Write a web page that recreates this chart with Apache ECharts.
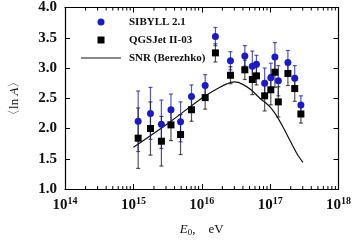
<!DOCTYPE html>
<html><head><meta charset="utf-8">
<script src="https://cdn.jsdelivr.net/npm/echarts@6/dist/echarts.min.js"></script>
<style>html,body{margin:0;padding:0;background:#fff}#c{width:354px;height:242px}</style>
</head><body><div id="c"></div>
<script>
// log10 of primary energy E0 (eV)
const lgE = [15.07,15.25,15.41,15.55,15.69,15.85,16.05,16.20,16.42,16.63,16.74,16.80,16.92,17.01,17.07,17.12,17.26,17.36,17.45];
const sibyll = [2.12,2.25,2.07,2.31,2.11,2.53,2.71,3.52,3.12,3.20,3.03,3.06,2.75,2.84,3.18,2.79,3.09,2.83,2.39];
const sibyllErr = [0.50,0.43,0.40,0.26,0.33,0.19,0.18,0.15,0.15,0.17,0.25,0.15,0.25,0.24,0.24,0.25,0.20,0.21,0.15];
const qgsjet = [1.84,2.00,1.79,2.06,1.90,2.31,2.51,3.25,2.88,2.97,2.81,2.87,2.54,2.64,2.93,2.44,2.91,2.66,2.24];
const qgsjetErr = [0.50,0.44,0.41,0.26,0.33,0.19,0.19,0.15,0.14,0.16,0.25,0.15,0.25,0.25,0.25,0.25,0.20,0.21,0.15];
const snrLgE = [15.0,15.5,16.0,16.2,16.35,16.48,16.6,16.72,16.85,16.95,17.02,17.1,17.2,17.3,17.4,17.48];
const snr = [1.69,2.08,2.5,2.64,2.73,2.77,2.73,2.64,2.5,2.41,2.33,2.2,2.0,1.78,1.57,1.44];
const xTicks = [14,15,16,17,18];
const yTicks = [1.0,1.5,2.0,2.5,3.0,3.5,4.0];

const E = v => Math.pow(10, v);
const serif = 'Liberation Serif';
const xMin = E(xTicks[0]), xMax = E(xTicks[xTicks.length-1]);
const yMin = yTicks[0], yMax = yTicks[yTicks.length-1];
// log-spaced minor tick positions (2..9 x 10^n)
const minorVals = [];
xTicks.slice(0,-1).forEach(n => { for (let k=2;k<=9;k++) minorVals.push([k*E(n), yMin, yMax]); });

function errData(vals, errs){ return lgE.map((x,i)=>[E(x), vals[i]-errs[i], vals[i]+errs[i]]); }
function errSeries(vals, errs, color, z){
  return {type:'custom', silent:true, z:z, data: errData(vals, errs), encode:{x:0,y:[1,2]},
    renderItem:(params, api)=>{
      const x = api.value(0);
      const lo = api.coord([x, api.value(1)]);
      const hi = api.coord([x, api.value(2)]);
      const w = 2;
      const st = {stroke: color, lineWidth: 1.2};
      return {type:'group', children:[
        {type:'line', shape:{x1:lo[0],y1:lo[1],x2:hi[0],y2:hi[1]}, style:st},
        {type:'line', shape:{x1:lo[0]-w,y1:lo[1],x2:lo[0]+w,y2:lo[1]}, style:st},
        {type:'line', shape:{x1:hi[0]-w,y1:hi[1],x2:hi[0]+w,y2:hi[1]}, style:st}
      ]};
    }};
}
const axisLine = {show:true, lineStyle:{color:'#000', width:1.2}};
const tick = {show:true, inside:true, length:5, lineStyle:{color:'#000', width:1}};
const labelFmt = v => '{b|10}{s|' + Math.round(Math.log10(v)) + '}';
const option = {
  animation:false,
  grid:{left:58, right:13, top:5, bottom:47},
  legend:{
    left:76, top:11, orient:'vertical', itemWidth:40, itemHeight:7, itemGap:6,
    data:[{name:'SIBYLL 2.1', icon:'circle'},{name:'QGSJet II-03', icon:'path://M0,0h1v1h-1z'},{name:'SNR (Berezhko)', icon:'path://M0,3h40v1.2h-40z'}],
    textStyle:{fontFamily:serif, fontWeight:'bold', fontSize:11, color:'#111', lineHeight:12, padding:[0,0,0,3]}
  },
  xAxis:[{
    type:'log', logBase:10, min:xMin, max:xMax,
    name:'{i|E}{sub|0}{n|,    eV}', nameLocation:'middle', nameGap:33,
    nameTextStyle:{rich:{i:{fontFamily:serif,fontStyle:'italic',fontSize:13,color:'#111'},sub:{fontFamily:serif,fontSize:9,verticalAlign:'bottom',padding:[6,0,0,0],color:'#111'},n:{fontFamily:serif,fontSize:13,color:'#111'}}},
    axisLine, splitLine:{show:false}, axisTick:tick,
    axisLabel:{margin:7, formatter:labelFmt, rich:{b:{fontFamily:serif,fontWeight:'bold',fontSize:15,color:'#111'},s:{fontFamily:serif,fontWeight:'bold',fontSize:10,color:'#111',verticalAlign:'top',padding:[0,0,8,0]}}}
  },{
    type:'log', logBase:10, position:'top', min:xMin, max:xMax,
    axisLine, splitLine:{show:false}, axisLabel:{show:false}, axisTick:tick
  }],
  yAxis:[{
    type:'value', min:yMin, max:yMax, interval:0.5,
    name:'{t|〈ln }{i|A}{t|〉}', nameLocation:'middle', nameGap:44, nameRotate:90,
    nameTextStyle:{rich:{t:{fontFamily:serif,fontSize:13,color:'#111'},i:{fontFamily:serif,fontStyle:'italic',fontSize:13,color:'#111'}}},
    axisLine, splitLine:{show:false}, axisTick:tick,
    axisLabel:{margin:8, fontFamily:serif, fontWeight:'bold', fontSize:15, color:'#111', formatter:v=>v.toFixed(1)}
  },{
    type:'value', position:'right', min:yMin, max:yMax, interval:0.5,
    axisLine, splitLine:{show:false}, axisLabel:{show:false}, axisTick:tick
  }],
  series:[
    {name:'minor', type:'custom', silent:true, clip:false, z:5, xAxisIndex:0, yAxisIndex:0,
      data:minorVals, encode:{x:0, y:[1,2]},
      renderItem:(params, api)=>{
        const b = api.coord([api.value(0), api.value(1)]);
        const t = api.coord([api.value(0), api.value(2)]);
        const st = {stroke:'#000', lineWidth:1};
        return {type:'group', children:[
          {type:'line', shape:{x1:b[0],y1:b[1],x2:b[0],y2:b[1]-3}, style:st},
          {type:'line', shape:{x1:t[0],y1:t[1],x2:t[0],y2:t[1]+3}, style:st}
        ]};
      }},
    {name:'SNR (Berezhko)', type:'line', data:snrLgE.map((x,i)=>[E(x),snr[i]]), symbol:'none', showSymbol:false, smooth:0.3,
      lineStyle:{color:'#111', width:1.2}, itemStyle:{color:'#111'}, z:1},
    errSeries(sibyll, sibyllErr, 'rgba(40,40,200,0.8)', 2),
    {name:'SIBYLL 2.1', type:'scatter', symbol:'circle', symbolSize:7, z:3,
      data:lgE.map((x,i)=>[E(x),sibyll[i]]), itemStyle:{color:'#1a1acc', opacity:1}},
    errSeries(qgsjet, qgsjetErr, 'rgba(30,30,30,0.75)', 3),
    {name:'QGSJet II-03', type:'scatter', symbol:'rect', symbolSize:7, z:4,
      data:lgE.map((x,i)=>[E(x),qgsjet[i]]), itemStyle:{color:'#000', opacity:1}}
  ]
};
echarts.init(document.getElementById('c')).setOption(option);
</script></body></html>
